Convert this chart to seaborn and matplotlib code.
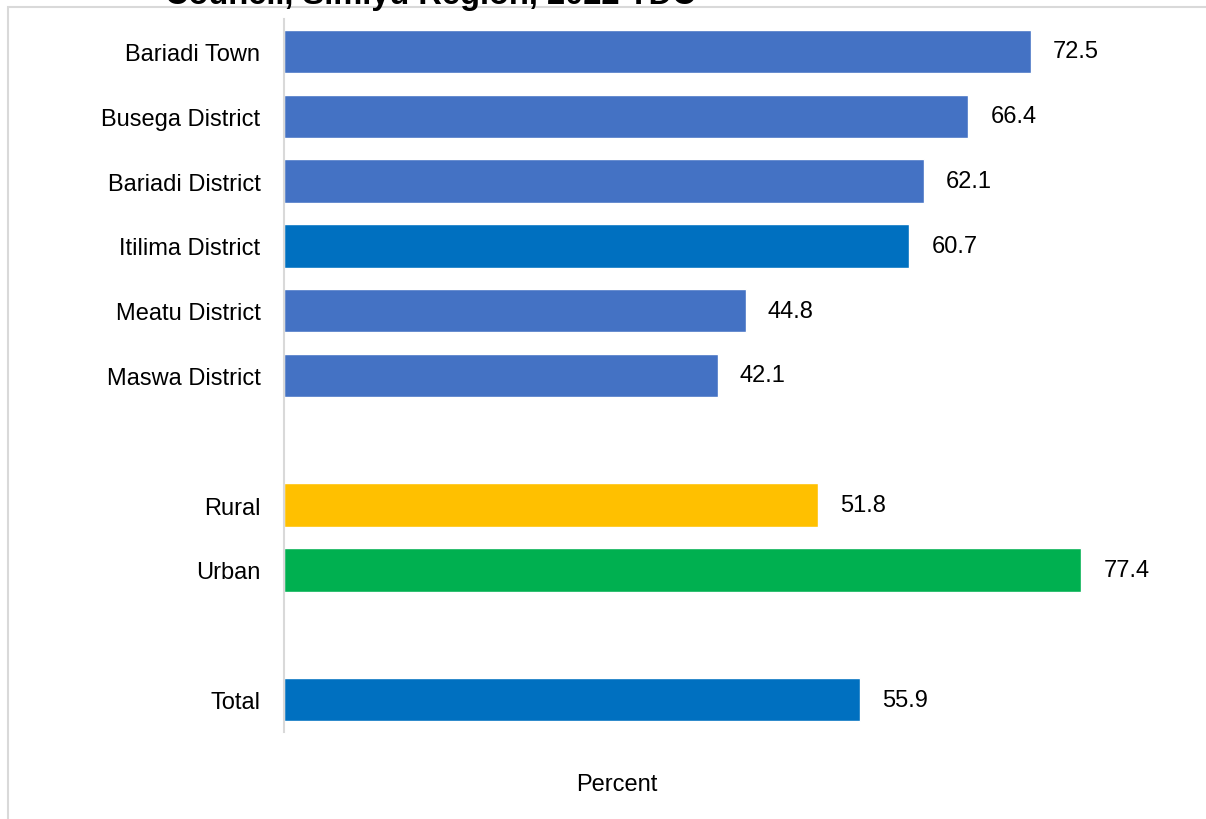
import pandas as pd
import seaborn as sns
import matplotlib.pyplot as plt
from matplotlib.patches import Rectangle

# values
districts = ['Bariadi Town', 'Busega District', 'Bariadi District',
             'Itilima District', 'Meatu District', 'Maswa District']
district_vals = [72.5, 66.4, 62.1, 60.7, 44.8, 42.1]
residence = ['Rural', 'Urban']
residence_vals = [51.8, 77.4]
total_label = ['Total']
total_vals = [55.9]

colors = {
    'Bariadi Town': '#4472C4', 'Busega District': '#4472C4',
    'Bariadi District': '#4472C4', 'Itilima District': '#0070C0',
    'Meatu District': '#4472C4', 'Maswa District': '#4472C4',
    'Rural': '#FFC000', 'Urban': '#00B050', 'Total': '#0070C0',
}

df = pd.DataFrame({
    'area': districts + residence + total_label,
    'value': district_vals + residence_vals + total_vals,
})
# blank slots give the gaps between the groups
order = districts + [' '] + residence + ['  '] + total_label

sns.set_theme(style='white')
plt.rcParams['font.family'] = ['Liberation Sans', 'DejaVu Sans']

fig = plt.figure(figsize=(12.06, 8.2), dpi=100)
ax = fig.add_axes([284 / 1206, 1 - 733 / 820, 866 / 1206, 713 / 820])

sns.barplot(data=df, y='area', x='value', hue='area', order=order,
            palette=colors, legend=False, width=0.67, ax=ax, saturation=1)

for c in ax.containers:
    ax.bar_label(c, fmt='%.1f', padding=16, fontsize=17, color='#000000')

ax.set_xlim(0, 84.05)
ax.set_ylim(10.5, -0.5)
ax.set_xticks([])
ax.set_ylabel('')
ax.set_xlabel('Percent', fontsize=17, color='#000000')
ax.xaxis.set_label_coords(333 / 866, -0.058)
ax.tick_params(axis='y', length=0, pad=17, labelsize=17, labelcolor='#000000')
for s in ['top', 'right', 'bottom']:
    ax.spines[s].set_visible(False)
ax.spines['left'].set_color('#D9D9D9')
ax.spines['left'].set_linewidth(1.5)

# chart frame (open to the right and bottom) and the clipped title
fig.patches.append(Rectangle((8 / 1206, -0.05), 1.1, 1 - 8 / 820 + 0.05,
                             transform=fig.transFigure, fill=False,
                             edgecolor='#D9D9D9', linewidth=1.5))
fig.text(165 / 1206, 1 - 4 / 820, 'Council, Simiyu Region, 2022 TDC',
         fontsize=23.5, fontweight='bold',
         ha='left', va='baseline', color='#000000')

fig.savefig('out.png', dpi=100)
